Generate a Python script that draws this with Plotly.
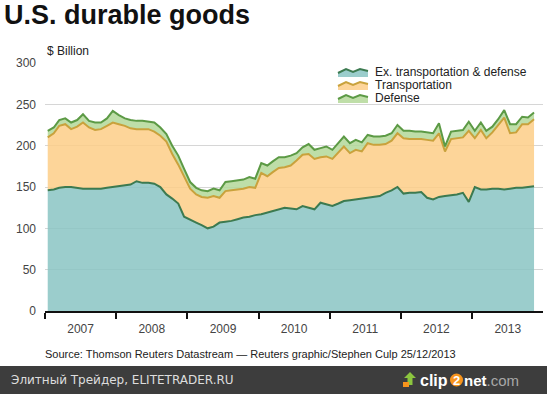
import plotly.graph_objects as go

# ---------------- data (monthly, Jan 2007 - Nov 2013, $ billion) ----------------
months = [f"{2007 + i // 12}-{i % 12 + 1:02d}-15" for i in range(83)]

ex_transport_defense = [
    146, 147, 149, 150, 150, 149, 148, 148, 148, 148, 149, 150,
    151, 152, 153, 157, 155, 155, 154, 150, 141, 136, 130, 114,
    110, 107, 104, 100, 102, 107, 108, 109, 111, 113, 114, 116,
    117, 119, 121, 123, 125, 124, 123, 127, 125, 123, 131, 129,
    127, 130, 133, 134, 135, 136, 137, 138, 139, 143, 146, 150,
    142, 143, 143, 144, 137, 135, 138, 139, 140, 141, 143, 132,
    150, 147, 147, 148, 148, 147, 148, 149, 149, 150, 151,
]
transportation = [
    64, 68, 75, 76, 70, 74, 80, 74, 71, 72, 75, 78,
    75, 72, 68, 63, 65, 65, 63, 62, 64, 54, 47, 48,
    38, 34, 34, 37, 37, 30, 37, 37, 36, 35, 36, 33,
    50, 44, 47, 50, 49, 52, 59, 62, 65, 61, 55, 58,
    57, 62, 66, 57, 60, 57, 66, 63, 62, 59, 60, 65,
    67, 65, 65, 64, 70, 71, 77, 54, 68, 68, 67, 86,
    59, 72, 62, 68, 77, 87, 67, 67, 77, 76, 81,
]
defense = [
    8, 7, 7, 7, 8, 8, 10, 8, 9, 8, 9, 14,
    11, 9, 10, 10, 10, 9, 11, 10, 9, 10, 11, 10,
    8, 8, 8, 8, 9, 9, 11, 11, 11, 11, 12, 11,
    12, 13, 13, 13, 12, 12, 9, 9, 12, 11, 11, 12,
    11, 11, 12, 12, 12, 11, 10, 10, 10, 10, 9, 10,
    9, 10, 9, 9, 9, 9, 12, 6, 9, 9, 9, 11,
    9, 9, 9, 7, 7, 9, 11, 10, 9, 8, 8,
]
series_names = ["Ex. transportation & defense", "Transportation", "Defense"]
y_ticks = [0, 50, 100, 150, 200, 250, 300]

# ---------------- styles ----------------
fill_colors = ["rgba(137,196,195,0.85)", "rgba(253,206,135,0.85)", "rgba(179,216,153,0.85)"]
legend_fill = ["#9bcdcc", "#fdd59a", "#bfdea8"]
line_colors = ["#3c7a50", "#c9a23c", "#5c9a45"]

fig = go.Figure()
for name, vals, fc, lc in zip(series_names, [ex_transport_defense, transportation, defense],
                              fill_colors, line_colors):
    fig.add_trace(go.Scatter(
        x=months, y=vals, name=name, mode="lines", stackgroup="one",
        fillcolor=fc, line=dict(color=lc, width=2), hoverinfo="skip", showlegend=False,
    ))

W, H = 547, 394
L, R, T, B = 45, 4, 63, 83
PW, PH = W - L - R, H - T - B


def px(x):
    return (x - L) / PW


def py(y):
    return (H - B - y) / PH


FONT = "Liberation Sans, Arial, sans-serif"
annotations = []
shapes = []

# title & unit
annotations.append(dict(text="<b>U.S. durable goods</b>", x=px(2), y=py(15), xref="paper", yref="paper",
                        xanchor="left", yanchor="middle", showarrow=False,
                        font=dict(family=FONT, size=27, color="#111111")))
annotations.append(dict(text="$ Billion", x=px(45), y=py(51), xref="paper", yref="paper",
                        xanchor="left", yanchor="middle", showarrow=False,
                        font=dict(family=FONT, size=12, color="#222222")))

# manual legend (compact rows)
rows = [72, 85, 98]
for name, cy, ff, lc in zip(series_names, rows, legend_fill, line_colors):
    top = [(338, cy + 1), (346, cy - 3), (353, cy), (360, cy - 3), (368, cy - 1)]
    poly = "M " + " L ".join(f"{px(a)},{py(b)}" for a, b in top)
    poly += f" L {px(368)},{py(cy + 5)} L {px(338)},{py(cy + 5)} Z"
    shapes.append(dict(type="path", path=poly, xref="paper", yref="paper",
                       fillcolor=ff, line=dict(width=0)))
    line = "M " + " L ".join(f"{px(a)},{py(b)}" for a, b in top)
    shapes.append(dict(type="path", path=line, xref="paper", yref="paper",
                       fillcolor="rgba(0,0,0,0)", line=dict(color=lc, width=2)))
    annotations.append(dict(text=name, x=px(373), y=py(cy), xref="paper", yref="paper",
                            xanchor="left", yanchor="middle", showarrow=False,
                            font=dict(family=FONT, size=12, color="#222222")))

# source
annotations.append(dict(text="Source: Thomson Reuters Datastream \u2014 Reuters graphic/Stephen Culp 25/12/2013",
                        x=px(43), y=py(354), xref="paper", yref="paper", xanchor="left", yanchor="middle",
                        showarrow=False, font=dict(family=FONT, size=11, color="#222222")))

# footer bar
shapes.append(dict(type="rect", xref="paper", yref="paper", x0=px(-2), x1=px(W + 2), y0=py(366), y1=py(H + 2),
                   fillcolor="#3d3d3d", line=dict(width=0), layer="above"))
annotations.append(dict(text="Элитный Трейдер, ELITETRADER.RU", x=px(9), y=py(380), xref="paper", yref="paper",
                        xanchor="left", yanchor="middle", showarrow=False,
                        font=dict(family="DejaVu Sans, sans-serif", size=12, color="#dddddd")))
# clip2net logo
shapes.append(dict(type="path", xref="paper", yref="paper",
                   path=f"M {px(410)},{py(372)} L {px(416)},{py(378)} L {px(412.5)},{py(378)} L {px(412.5)},{py(385)} "
                        f"L {px(407.5)},{py(385)} L {px(407.5)},{py(378)} L {px(404)},{py(378)} Z",
                   fillcolor="#8cc63f", line=dict(width=0), layer="above"))
shapes.append(dict(type="rect", xref="paper", yref="paper", x0=px(403), x1=px(409), y0=py(382), y1=py(387),
                   fillcolor="#f7941d", line=dict(width=0), layer="above"))
shapes.append(dict(type="circle", xref="paper", yref="paper", x0=px(450), x1=px(463), y0=py(373.5), y1=py(386.5),
                   fillcolor="#f7941d", line=dict(width=0), layer="above"))
annotations.append(dict(text="<b>clip</b>", x=px(450), y=py(380), xref="paper", yref="paper",
                        xanchor="right", yanchor="middle", showarrow=False,
                        font=dict(family=FONT, size=16, color="#ffffff")))
annotations.append(dict(text="<b>2</b>", x=px(456.5), y=py(380), xref="paper", yref="paper",
                        xanchor="center", yanchor="middle", showarrow=False,
                        font=dict(family=FONT, size=13, color="#ffffff")))
annotations.append(dict(text="<b>net</b><span style='color:#a8a8a8'>.com</span>", x=px(462), y=py(380),
                        xref="paper", yref="paper", xanchor="left", yanchor="middle", showarrow=False,
                        font=dict(family=FONT, size=15, color="#ffffff")))

fig.update_layout(
    width=W, height=H,
    margin=dict(l=L, r=R, t=T, b=B, pad=0),
    paper_bgcolor="white", plot_bgcolor="white",
    showlegend=False,
    annotations=annotations, shapes=shapes,
    font=dict(family=FONT, color="#333333"),
)
fig.update_yaxes(range=[0, 300], tickvals=y_ticks, showgrid=True, gridcolor="#d6d6d6", gridwidth=1,
                 zeroline=False, showline=False, ticks="", ticklabelstandoff=8,
                 tickfont=dict(family=FONT, size=12, color="#444444"), fixedrange=True)
fig.update_xaxes(type="date", range=["2007-01-01", "2013-12-31"], dtick="M12", tick0="2007-01-01",
                 tickformat="%Y", ticklabelmode="period", showgrid=False, zeroline=False,
                 showline=True, linecolor="#111111", linewidth=1.5,
                 ticks="outside", ticklen=6, tickwidth=1.5, tickcolor="#111111",
                 tickfont=dict(family=FONT, size=12, color="#444444"), fixedrange=True)

fig.write_html("out.html", config={"displayModeBar": False},
               post_script="document.body.style.margin='0';document.body.style.overflow='hidden';")
